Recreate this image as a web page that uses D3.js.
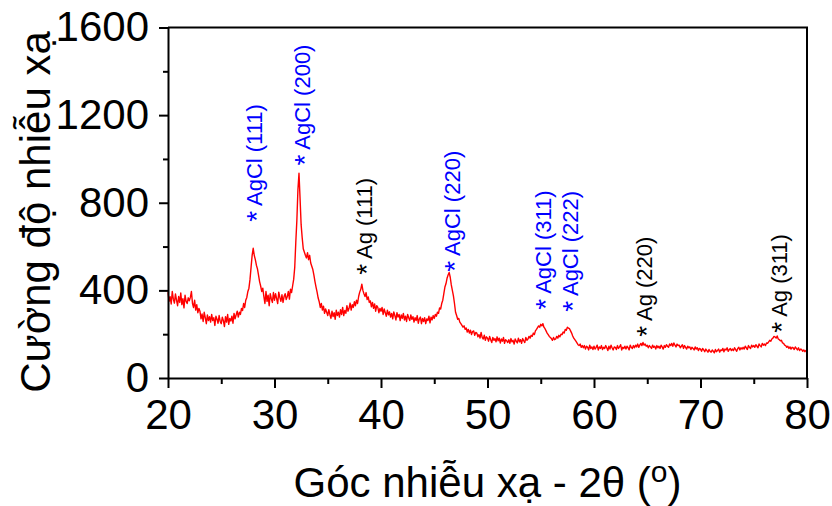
<!DOCTYPE html>
<html>
<head>
<meta charset="utf-8">
<script src="https://cdn.jsdelivr.net/npm/d3@7"></script>
<style>
  body { margin: 0; background: #fff; }
  svg { display: block; font-family: Arial, 'Liberation Sans', sans-serif; }
</style>
</head>
<body>
<div id="chart"></div>
<script>
// XRD pattern, Ag/AgCl

const twoThetaStart = 20;
const twoThetaStep = 0.1;
// intensity every 0.1 deg from 20 to 80 (noise included), one row per degree
const intensity = [
    392, 350, 371, 338, 395, 360, 342, 384, 355, 330,
    372, 345, 388, 335, 362, 320, 378, 350, 340, 366,
    352, 368, 395, 340, 322, 355, 310, 335, 298, 318,
    305, 270, 292, 258, 300, 275, 248, 288, 262, 280,
    255, 290, 262, 275, 240, 282, 268, 250, 285, 258,
    248, 278, 262, 235, 280, 255, 290, 245, 272, 260,
    282, 250, 295, 270, 288, 305, 278, 300, 290, 318,
    308, 340, 322, 355, 368, 395, 410, 450, 505, 560,
    592, 560, 540, 515, 498, 470, 440, 420, 395, 410,
    372, 340, 395, 350, 378, 330, 385, 362, 345, 390,
    355, 385, 362, 340, 392, 368, 350, 380, 345, 372,
    385, 358, 372, 395, 360, 405, 390, 420, 450, 505,
    620, 720, 860, 935, 820, 700, 640, 590, 575, 560,
    548, 572, 540, 560, 525, 510, 495, 470, 440, 415,
    392, 365, 348, 322, 340, 310, 328, 295, 315, 300,
    285, 312, 290, 272, 305, 280, 298, 268, 310, 285,
    300, 278, 312, 290, 322, 285, 308, 295, 330, 305,
    318, 342, 310, 335, 322, 348, 330, 355, 340, 372,
    392, 405, 428, 400, 385, 372, 390, 358, 370, 345,
    352, 325, 345, 318, 338, 305, 330, 322, 298, 318,
    305, 322, 290, 315, 298, 282, 310, 288, 302, 278,
    295, 270, 302, 285, 265, 298, 278, 290, 262, 288,
    272, 295, 265, 282, 258, 290, 275, 262, 288, 268,
    280, 255, 275, 262, 285, 250, 270, 278, 248, 272,
    258, 275, 248, 270, 262, 282, 252, 278, 265, 285,
    272, 290, 282, 300, 295, 320, 315, 340, 355, 385,
    415, 430, 455, 470, 482, 460, 425, 400, 375, 340,
    300, 285, 268, 272, 255, 248, 240, 232, 238, 222,
    228, 210, 222, 205, 218, 198, 212, 215, 195, 208,
    205, 188, 198, 182, 208, 185, 178, 195, 172, 188,
    182, 168, 190, 175, 162, 185, 172, 180, 165, 188,
    170, 182, 160, 178, 168, 185, 158, 175, 170, 162,
    175, 158, 180, 165, 172, 155, 178, 168, 160, 182,
    165, 175, 158, 180, 170, 162, 185, 172, 178, 190,
    182, 195, 190, 205, 198, 215, 222, 230, 238, 232,
    245, 238, 248, 232, 225, 215, 205, 198, 190, 185,
    180, 172, 185, 175, 178, 190, 182, 195, 188, 200,
    198, 210, 205, 222, 218, 232, 228, 225, 215, 205,
    192, 182, 175, 168, 160, 152, 148, 155, 140, 148,
    138, 148, 132, 145, 140, 128, 150, 135, 142, 130,
    145, 132, 140, 150, 128, 142, 135, 148, 130, 140,
    135, 148, 138, 125, 145, 132, 150, 138, 128, 142,
    140, 130, 148, 135, 142, 152, 128, 140, 135, 145,
    132, 145, 138, 128, 150, 140, 135, 148, 138, 150,
    142, 155, 140, 150, 158, 148, 162, 150, 155, 145,
    150, 138, 148, 142, 135, 150, 140, 145, 132, 148,
    138, 145, 135, 150, 142, 132, 148, 140, 152, 145,
    140, 155, 148, 158, 145, 160, 150, 142, 155, 148,
    150, 138, 145, 152, 135, 148, 140, 132, 145, 138,
    142, 130, 140, 135, 128, 142, 132, 138, 125, 135,
    132, 122, 135, 128, 120, 132, 125, 118, 130, 122,
    118, 128, 122, 115, 130, 120, 126, 132, 118, 128,
    125, 135, 120, 132, 128, 138, 122, 130, 135, 125,
    132, 125, 138, 130, 122, 135, 140, 128, 138, 132,
    140, 132, 145, 138, 130, 148, 140, 135, 150, 142,
    148, 140, 152, 145, 138, 155, 148, 142, 158, 150,
    155, 148, 160, 158, 165, 172, 168, 178, 182, 190,
    188, 182, 192, 178, 175, 170, 172, 160, 158, 150,
    148, 140, 145, 135, 142, 132, 140, 138, 130, 142,
    135, 128, 138, 125, 132, 130, 122, 128, 120, 126,
    122
];

// peak labels: text, 2theta of the star, intensity where the label starts, phase
const peakLabels = ['AgCl (111)', 'AgCl (200)', 'Ag (111)', 'AgCl (220)', 'AgCl (311)', 'AgCl (222)', 'Ag (220)', 'Ag (311)'];
const peakPos = [27.9, 32.4, 38.2, 46.5, 55.0, 57.6, 64.5, 77.2];
const peakLabelY = [713, 970, 471, 485, 312, 302, 188, 207];
const peakPhase = ['AgCl', 'AgCl', 'Ag', 'AgCl', 'AgCl', 'AgCl', 'Ag', 'Ag'];

const xTicks = [20, 30, 40, 50, 60, 70, 80];
const xMinorTicks = [25, 35, 45, 55, 65, 75];
const yTicks = [0, 400, 800, 1200, 1600];
const yMinorTicks = [200, 600, 1000, 1400];

const W = 832, H = 506;
const margin = { top: 27.5, right: 25, bottom: 128, left: 168 };

const svg = d3.select('#chart').append('svg').attr('width', W).attr('height', H);

const x = d3.scaleLinear().domain([20, 80]).range([margin.left, W - margin.right]);
const y = d3.scaleLinear().domain([0, 1600]).range([H - margin.bottom, margin.top]);

const data = intensity.map((v, i) => ({ t: twoThetaStart + i * twoThetaStep, v }));

// curve
svg.append('path')
    .datum(data)
    .attr('fill', 'none')
    .attr('stroke', '#ff0000')
    .attr('stroke-width', 1.4)
    .attr('stroke-linejoin', 'round')
    .attr('d', d3.line().x(d => x(d.t)).y(d => y(d.v)));

// frame (top + right)
svg.append('path')
    .attr('fill', 'none')
    .attr('stroke', '#000')
    .attr('stroke-width', 2)
    .attr('d', `M${x(20)},${y(1600)}H${x(80)}V${y(0)}`);

// axes
const styleAxis = g => {
    g.select('.domain').attr('stroke-width', 2);
    g.selectAll('.tick line').attr('stroke-width', 2);
    g.selectAll('.tick text').style('font-size', '42px').attr('fill', '#000');
};

svg.append('g')
    .attr('transform', `translate(0,${y(0)})`)
    .call(d3.axisBottom(x).tickValues(xMinorTicks).tickSize(6).tickFormat(''))
    .call(g => g.select('.domain').remove())
    .selectAll('.tick line').attr('stroke-width', 2);

svg.append('g')
    .attr('transform', `translate(0,${y(0)})`)
    .call(d3.axisBottom(x).tickValues(xTicks).tickSize(10).tickSizeOuter(0).tickPadding(11).tickFormat(d3.format('d')))
    .call(styleAxis);

svg.append('g')
    .attr('transform', `translate(${x(20)},0)`)
    .call(d3.axisLeft(y).tickValues(yMinorTicks).tickSize(5).tickFormat(''))
    .call(g => g.select('.domain').remove())
    .selectAll('.tick line').attr('stroke-width', 2);

svg.append('g')
    .attr('transform', `translate(${x(20)},0)`)
    .call(d3.axisLeft(y).tickValues(yTicks).tickSize(9).tickSizeOuter(0).tickPadding(10).tickFormat(d3.format('d')))
    .call(styleAxis);

// axis titles
const xTitle = svg.append('text')
    .attr('x', (x(20) + x(80)) / 2)
    .attr('y', 497)
    .attr('text-anchor', 'middle')
    .style('font-size', '42px')
    .attr('fill', '#000');
xTitle.append('tspan').text('Góc nhiễu xạ - 2θ (');
xTitle.append('tspan').attr('dy', -15).style('font-size', '30px').text('o');
xTitle.append('tspan').attr('dy', 15).text(')');

svg.append('text')
    .attr('transform', `translate(50,212) rotate(-90)`)
    .attr('text-anchor', 'middle')
    .style('font-size', '42px')
    .attr('fill', '#000')
    .text('Cường độ nhiễu xạ');

// peak labels
const labels = svg.append('g')
    .selectAll('text')
    .data(peakLabels)
    .join('text')
    .attr('transform', (d, i) => `translate(${x(peakPos[i]) + 10},${y(peakLabelY[i])}) rotate(-90)`)
    .attr('text-anchor', 'start')
    .style('font-size', '22px')
    .attr('fill', (d, i) => peakPhase[i] === 'AgCl' ? '#0000ff' : '#000');
labels.append('tspan').style('font-size', '28px').attr('dy', 4).text('*');
labels.append('tspan').attr('dy', -4).text(d => ' ' + d);
</script>
</body>
</html>
